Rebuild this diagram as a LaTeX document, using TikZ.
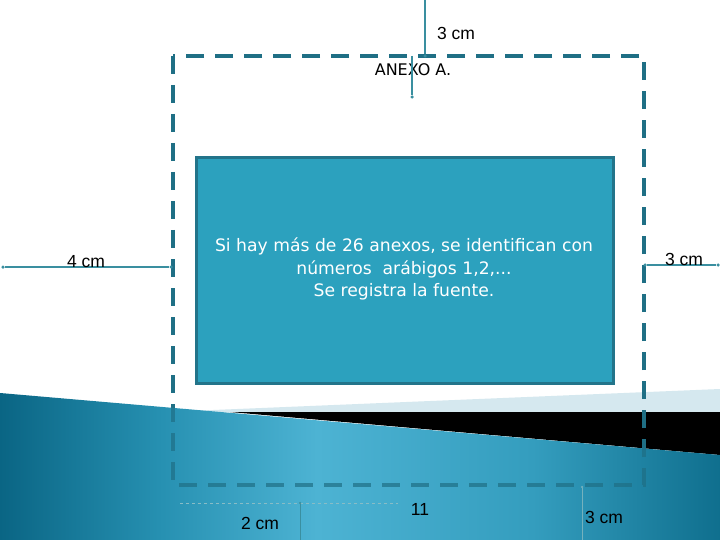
\documentclass[tikz,border=0pt]{standalone}
\usepackage{fontspec}
\setmainfont{DejaVu Sans}
\newfontfamily\arialf{Liberation Sans}
\definecolor{bordc}{HTML}{1F6F85}
\definecolor{boxfill}{HTML}{2CA1BE}
\definecolor{boxdraw}{HTML}{23748A}
\definecolor{dimc}{HTML}{3A8FA0}
\definecolor{tealdark}{HTML}{0A6584}
\definecolor{tealmidl}{HTML}{2690B1}
\definecolor{teallight}{HTML}{4DB3D3}
\definecolor{tealmidr}{HTML}{349DBE}
\definecolor{tealright}{HTML}{0F6F8E}
\definecolor{wedge}{HTML}{D5E8EF}
\pgfdeclarehorizontalshading{tealband}{100bp}{color(0bp)=(tealdark); color(25bp)=(tealdark); color(36bp)=(tealmidl); color(47bp)=(teallight); color(62bp)=(tealmidr); color(75bp)=(tealright); color(100bp)=(tealright)}
\tikzset{
  dimline/.style={draw=dimc, line width=1.2pt},
  dimdot/.style={circle, fill=dimc, inner sep=0pt, minimum size=3.5pt},
  dimlabel/.style={font=\arialf\fontsize{17.5}{19}\selectfont, text=black, inner sep=0pt},
  border/.style={draw=bordc, line width=4pt, dash pattern=on 18pt off 11pt},
}
\begin{document}
\begin{tikzpicture}[x=1pt,y=-1pt]
\useasboundingbox (0,0) rectangle (720,540);
\fill[white] (0,0) rectangle (720,540);
% decorative bands
\fill[wedge] (165,412) -- (720,389) -- (720,412) -- cycle;
\fill[black] (230,412) -- (720,412) -- (720,455) -- cycle;
% dashed page border
\draw[border] (173,56) rectangle (644,485);
% teal band
\shade[shading=tealband] (0,393) -- (720,455) -- (720,540) -- (0,540) -- cycle;
\begin{scope}
  \clip (0,393) -- (720,455) -- (720,540) -- (0,540) -- cycle;
  \draw[border, draw opacity=0.7] (173,56) rectangle (644,485);
\end{scope}
% main box
\node[draw=boxdraw, line width=3pt, fill=boxfill, minimum width=417pt, minimum height=226pt,
      anchor=north west, inner sep=0pt] (box) at (195,156) {};
\node[text=white, align=center, font=\fontsize{17.2}{22.5}\selectfont] (boxtxt) at (404,269)
  {Si hay más de 26 anexos, se identifican con\\números\ \ arábigos 1,2,...\\Se registra la fuente.};
% title
\node[font=\fontsize{16}{18}\selectfont, inner sep=0pt] (anexo) at (413,70) {ANEXO A.};
% top dimension
\coordinate (t0) at (425,0);
\node[dimdot] (t1) at (425,56) {};
\draw[dimline] (t0) -- (t1);
\node[dimlabel] (t3cm) at (456,33) {3 cm};
\node[dimdot] (a1) at (412,97) {};
\draw[dimline] (t1.center -| a1) -- (a1);
% left dimension
\node[dimdot] (l0) at (3,267) {};
\node[dimdot] (l1) at (171,267) {};
\draw[dimline] (l0) -- (l1);
\node[dimlabel, anchor=base] (l4cm) at (86,267) {4 cm};
% right dimension
\node[dimdot] (r0) at (645,265) {};
\node[dimdot] (r1) at (718,265) {};
\draw[dimline] (r0) -- (r1);
\node[dimlabel, anchor=base] (r3cm) at (684,265) {3 cm};
% bottom dimensions
\coordinate (h0) at (180,503);
\coordinate (h1) at (398,503);
\draw[draw=dimc!60!white, line width=0.6pt, dashed] (h0) -- (h1);
\node[dimdot, minimum size=2.5pt] (b0) at (300,503) {};
\coordinate (b1) at (300,540);
\draw[dimline, line width=0.8pt] (b0) -- (b1);
\node[dimlabel] (b2cm) at (260,523) {2 cm};
\node[dimlabel] (num) at (420,509) {11};
\node[dimdot, minimum size=2.5pt, fill=dimc!70!white] (c0) at (582,487) {};
\coordinate (c1) at (582,540);
\draw[dimline, line width=0.8pt, draw=dimc!70!white] (c0) -- (c1);
\node[dimlabel] (b3cm) at (604,517) {3 cm};
\end{tikzpicture}
\end{document}
